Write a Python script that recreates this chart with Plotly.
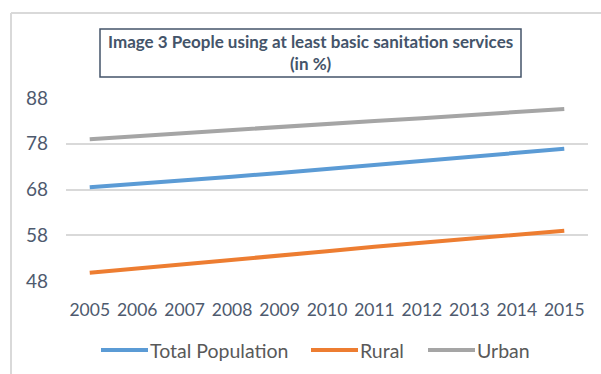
import plotly.graph_objects as go

years = [str(y) for y in range(2005, 2016)]
total_population = [68.5, 69.2, 70.0, 70.8, 71.6, 72.5, 73.4, 74.3, 75.2, 76.0, 76.9]
rural = [49.8, 50.7, 51.6, 52.5, 53.5, 54.5, 55.5, 56.4, 57.3, 58.2, 59.0]
urban = [79.0, 79.7, 80.3, 81.0, 81.6, 82.3, 83.0, 83.6, 84.3, 84.9, 85.6]
series_names = ["Total Population", "Rural", "Urban"]
series_colors = ["#5B9BD5", "#ED7D31", "#A5A5A5"]
y_ticks = [48, 58, 68, 78, 88]
title_text = "Image 3 People using at least basic sanitation services<br>(in %)"

W, H = 601, 374
L, R, T, B = 66, 13, 98, 93
pw, ph = W - L - R, H - T - B


def px(x):
    return (x - L) / pw


def py(y):
    return (H - B - y) / ph


fig = go.Figure()
for name, vals, col in zip(series_names, [total_population, rural, urban], series_colors):
    fig.add_trace(go.Scatter(x=years, y=vals, name=name, mode="lines", showlegend=False,
                             line=dict(color=col, width=4)))

text_col = "#4E5A6E"
legend_col = "#595959"

# manual legend (line sample + label), laid out like the original
legend_line_x = [(101, 148), (311, 358), (428, 475)]
legend_y = 350
shapes = [
    dict(type="rect", xref="paper", yref="paper", x0=px(100), x1=px(521), y0=py(29), y1=py(77),
         line=dict(color="#44546A", width=1.5), fillcolor="rgba(0,0,0,0)", layer="above"),
    dict(type="line", xref="paper", yref="paper", x0=px(11), x1=px(610), y0=py(13), y1=py(13),
         line=dict(color="#D9D9D9", width=2)),
    dict(type="line", xref="paper", yref="paper", x0=px(11), x1=px(11), y0=py(13), y1=py(380),
         line=dict(color="#D9D9D9", width=2)),
]
annotations = [
    dict(text="<b>" + title_text + "</b>", xref="paper", yref="paper", x=px(310.5), y=py(53),
         xanchor="center", yanchor="middle", showarrow=False,
         font=dict(family="Lato", size=17, color="#44546A"), align="center"),
]
for name, col, (x0, x1) in zip(series_names, series_colors, legend_line_x):
    shapes.append(dict(type="line", xref="paper", yref="paper", x0=px(x0), x1=px(x1),
                       y0=py(legend_y), y1=py(legend_y), line=dict(color=col, width=4)))
    annotations.append(dict(text=name, xref="paper", yref="paper", x=px(x1), y=py(legend_y),
                            xanchor="left", yanchor="middle", showarrow=False,
                            font=dict(family="Lato", size=19.5, color=legend_col)))

fig.update_layout(
    width=W, height=H,
    margin=dict(l=L, r=R, t=T, b=B),
    paper_bgcolor="white", plot_bgcolor="white",
    font=dict(family="Lato", size=15, color=text_col),
    showlegend=False,
    xaxis=dict(type="category", range=[-0.5, 10.5], showgrid=False, zeroline=False,
               showline=False, ticks="", ticklabelstandoff=16, tickfont=dict(size=17.5, color=text_col)),
    yaxis=dict(range=[48, 88], tickvals=y_ticks, showgrid=True, gridcolor="#D9D9D9", gridwidth=2,
               zeroline=False, showline=False, ticks="", ticklabelstandoff=17,
               tickfont=dict(size=19, color=text_col)),
    shapes=shapes,
    annotations=annotations,
)

fig.write_html("out.html")
